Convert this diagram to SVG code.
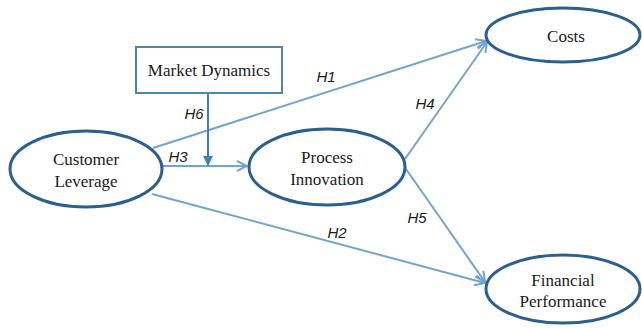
<svg xmlns="http://www.w3.org/2000/svg" width="642" height="328" viewBox="0 0 642 328">
<style>
.node{fill:#fff;stroke:#2d5f8c;stroke-width:3}
.box{fill:#fff;stroke:#4f84ad;stroke-width:2}
.t{font-family:"Liberation Serif","Times New Roman",serif;font-size:17px;fill:#1a1a1a;text-anchor:middle}
.lbl{font-family:"Liberation Sans",Arial,sans-serif;font-size:15px;font-style:italic;fill:#1a1a1a;text-anchor:middle}
.c{stroke:#75a3cc;stroke-width:2;fill:none}
</style>
<defs>
<marker id="open" viewBox="0 0 12 12" refX="11" refY="6" markerWidth="12" markerHeight="12" markerUnits="userSpaceOnUse" orient="auto">
<path d="M1,1 L11,6 L1,11" fill="none" stroke="#75a3cc" stroke-width="2"/>
</marker>
<marker id="solid" viewBox="0 0 10 10" refX="9" refY="5" markerWidth="10" markerHeight="10" markerUnits="userSpaceOnUse" orient="auto">
<path d="M0,0 L10,5 L0,10 Z" fill="#3f7fb5"/>
</marker>
</defs>
<rect width="642" height="328" fill="#fff"/>
<g id="connectors">
<line class="c" x1="153" y1="148" x2="486" y2="41" marker-end="url(#open)"/>
<line class="c" x1="152" y1="194" x2="485" y2="283" marker-end="url(#open)"/>
<line class="c" x1="163" y1="166" x2="247" y2="166" marker-end="url(#open)"/>
<line class="c" x1="405" y1="159" x2="487" y2="42" marker-end="url(#open)"/>
<line class="c" x1="406" y1="169" x2="485" y2="282" marker-end="url(#open)"/>
<line x1="208" y1="93" x2="208" y2="165" stroke="#3f7fb5" stroke-width="2" marker-end="url(#solid)"/>
<text class="lbl" x="326" y="82">H1</text>
<text class="lbl" x="194" y="119">H6</text>
<text class="lbl" x="178" y="162">H3</text>
<text class="lbl" x="425" y="109">H4</text>
<text class="lbl" x="417" y="223">H5</text>
<text class="lbl" x="337" y="238">H2</text>
</g>
<g id="market-dynamics">
<rect class="box" x="136" y="47" width="146" height="46"/>
<text class="t" x="209" y="76">Market Dynamics</text>
</g>
<g id="customer-leverage">
<ellipse class="node" cx="86" cy="169" rx="76" ry="38"/>
<text class="t" x="86" y="165">Customer</text>
<text class="t" x="86" y="187">Leverage</text>
</g>
<g id="process-innovation">
<ellipse class="node" cx="327" cy="167" rx="78" ry="38"/>
<text class="t" x="327" y="163">Process</text>
<text class="t" x="327" y="185">Innovation</text>
</g>
<g id="costs">
<ellipse class="node" cx="563" cy="35" rx="77" ry="27"/>
<text class="t" x="566" y="42">Costs</text>
</g>
<g id="financial-performance">
<ellipse class="node" cx="563" cy="289" rx="77" ry="34"/>
<text class="t" x="563" y="286">Financial</text>
<text class="t" x="563" y="307">Performance</text>
</g>
</svg>
